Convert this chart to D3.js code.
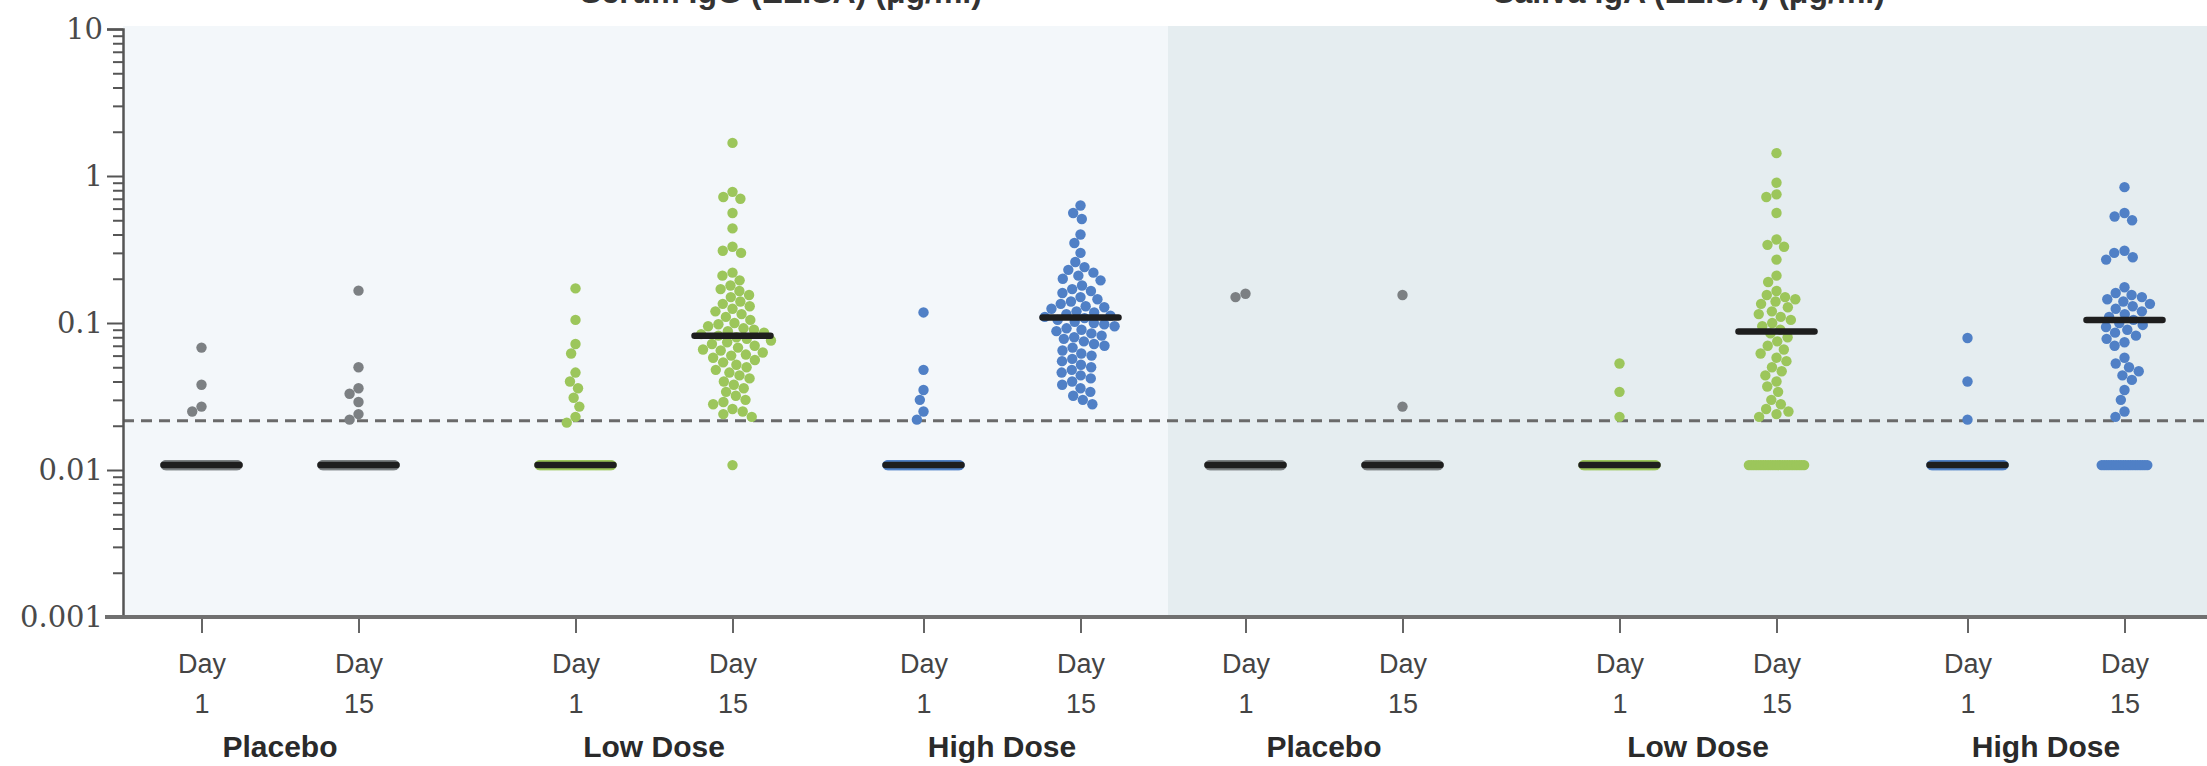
<!DOCTYPE html>
<html>
<head>
<meta charset="utf-8">
<script src="https://cdn.jsdelivr.net/npm/d3@7"></script>
<style>
  body { margin: 0; background: #fff; }
  svg { display: block; }
</style>
</head>
<body>
<div id="chart"></div>
<script>
// antibody levels, day 1 vs day 15, by dose group, two assays side by side
// values below the lower limit of quantitation are drawn at half of it

const panels = ['Serum', 'Saliva'];
const panelTitles = ['Serum IgG (ELISA) (\u03bcg/ml)', 'Saliva IgA (ELISA) (\u03bcg/ml)'];
const groups = ['Placebo', 'Low Dose', 'High Dose'];
const days = ['1', '15'];
const yTickValues = [0.001, 0.01, 0.1, 1, 10];
const lloq = 0.0216;
const floorValue = 0.0108;

// values above the LLOQ, one list per column
const serumPlaceboD1 = [0.068, 0.038, 0.027, 0.025];
const serumPlaceboD15 = [0.166, 0.050, 0.036, 0.033, 0.029, 0.024, 0.022];
const serumLowD1 = [0.172, 0.105, 0.072, 0.062, 0.046, 0.040, 0.036, 0.031, 0.027, 0.023, 0.021];
const serumLowD15 = [1.68, 0.78, 0.72, 0.70, 0.56, 0.44, 0.33, 0.31, 0.30, 0.22, 0.21, 0.195, 0.18,
  0.17, 0.165, 0.155, 0.15, 0.14, 0.135, 0.13, 0.125, 0.12, 0.115, 0.11, 0.105, 0.10, 0.098, 0.095,
  0.092, 0.09, 0.088, 0.086, 0.084, 0.082, 0.08, 0.078, 0.076, 0.074, 0.072, 0.07, 0.068, 0.066,
  0.065, 0.063, 0.061, 0.06, 0.058, 0.056, 0.054, 0.052, 0.05, 0.048, 0.046, 0.044, 0.042, 0.04,
  0.038, 0.036, 0.034, 0.032, 0.03, 0.029, 0.028, 0.026, 0.025, 0.024, 0.023];
const serumHighD1 = [0.118, 0.048, 0.035, 0.030, 0.025, 0.022];
const serumHighD15 = [0.63, 0.56, 0.51, 0.40, 0.35, 0.30, 0.26, 0.24, 0.23, 0.22, 0.21, 0.2, 0.195,
  0.18, 0.17, 0.165, 0.16, 0.15, 0.145, 0.14, 0.135, 0.13, 0.128, 0.125, 0.12, 0.118, 0.115, 0.112,
  0.11, 0.108, 0.105, 0.102, 0.1, 0.098, 0.095, 0.092, 0.09, 0.088, 0.085, 0.082, 0.08, 0.078,
  0.075, 0.072, 0.07, 0.068, 0.065, 0.062, 0.06, 0.057, 0.055, 0.052, 0.05, 0.048, 0.046, 0.044,
  0.042, 0.04, 0.038, 0.036, 0.034, 0.032, 0.03, 0.028];
const salivaPlaceboD1 = [0.158, 0.150];
const salivaPlaceboD15 = [0.155, 0.027];
const salivaLowD1 = [0.053, 0.034, 0.023];
const salivaLowD15 = [1.43, 0.90, 0.75, 0.72, 0.56, 0.37, 0.34, 0.33, 0.27, 0.21, 0.19, 0.165, 0.155,
  0.15, 0.145, 0.14, 0.135, 0.128, 0.12, 0.115, 0.11, 0.105, 0.1, 0.095, 0.09, 0.085, 0.08, 0.075,
  0.07, 0.066, 0.062, 0.058, 0.055, 0.05, 0.047, 0.044, 0.04, 0.037, 0.034, 0.03, 0.028, 0.026,
  0.025, 0.024, 0.023];
const salivaHighD1 = [0.079, 0.040, 0.022];
const salivaHighD15 = [0.84, 0.56, 0.53, 0.50, 0.31, 0.30, 0.28, 0.27, 0.175, 0.16, 0.155, 0.15,
  0.145, 0.14, 0.135, 0.13, 0.125, 0.12, 0.115, 0.11, 0.105, 0.1, 0.097, 0.094, 0.09, 0.086, 0.082,
  0.078, 0.074, 0.07, 0.058, 0.053, 0.05, 0.047, 0.044, 0.041, 0.035, 0.03, 0.025, 0.023];

// number of participants below the LLOQ in each column
const floorCounts = [74, 71, 62, 1, 68, 0, 72, 70, 66, 24, 67, 20];
// horizontal bar of each column
const medians = [floorValue, floorValue, floorValue, 0.082, floorValue, 0.109,
  floorValue, floorValue, floorValue, 0.0875, floorValue, 0.105];

const columnValues = [serumPlaceboD1, serumPlaceboD15, serumLowD1, serumLowD15, serumHighD1, serumHighD15,
  salivaPlaceboD1, salivaPlaceboD15, salivaLowD1, salivaLowD15, salivaHighD1, salivaHighD15];

const width = 2207;
const height = 766;
const axisX = 123;
const plotTop = 29;
const plotBottom = 617;
const panelSplit = 1168;

const svg = d3.select('#chart')
  .append('svg')
  .attr('width', width)
  .attr('height', height);

// scales
const y = d3.scaleLog()
  .domain([0.001, 10])
  .range([plotBottom, plotTop]);

const groupKeys = d3.cross(panels, groups).map(d => d.join('|'));
const groupCenter = d3.scaleOrdinal()
  .domain(groupKeys)
  .range([280, 654, 1002, 1324, 1698, 2046]);

const dayOffset = d3.scalePoint()
  .domain(days)
  .range([-78.5, 78.5]);

const columns = [];
groupKeys.forEach(g => days.forEach(d => columns.push({ group: g, day: d })));
columns.forEach((c, i) => {
  c.key = c.group + '|' + c.day;
  c.x = groupCenter(c.group) + dayOffset(c.day);
  c.values = columnValues[i];
  c.floor = floorCounts[i];
  c.median = medians[i];
});

const x = d3.scaleOrdinal()
  .domain(columns.map(c => c.key))
  .range(columns.map(c => c.x));

const color = d3.scaleOrdinal()
  .domain(groups)
  .range(['#7c8083', '#9cc65b', '#5080c6']);

// panel backgrounds
svg.append('rect')
  .attr('x', axisX).attr('y', plotTop - 3)
  .attr('width', panelSplit - axisX).attr('height', plotBottom - plotTop + 3)
  .attr('fill', '#f3f7fa');
svg.append('rect')
  .attr('x', panelSplit).attr('y', plotTop - 3)
  .attr('width', width - panelSplit).attr('height', plotBottom - plotTop + 3)
  .attr('fill', '#e5edf0');

// titles, cut off at the top like the source figure
svg.selectAll('.panel-title')
  .data(panels)
  .enter()
  .append('text')
  .attr('class', 'panel-title')
  .attr('x', (d, i) => i === 0 ? 781 : 1689)
  .attr('y', 3)
  .attr('text-anchor', 'middle')
  .attr('font-family', 'Liberation Sans, Arial, sans-serif')
  .attr('font-weight', 'bold')
  .attr('font-size', 32)
  .attr('fill', '#333')
  .text((d, i) => panelTitles[i]);

// dashed LLOQ line
svg.append('line')
  .attr('x1', axisX).attr('x2', width)
  .attr('y1', y(lloq)).attr('y2', y(lloq))
  .attr('stroke', '#6a6a6a')
  .attr('stroke-width', 3)
  .attr('stroke-dasharray', '11 7');

// simple beeswarm: nearest free offset to the column centre
function swarm(vals, diam) {
  const placed = [];
  vals.slice().sort((a, b) => b - a).forEach(v => {
    const py = y(v);
    const blocks = [];
    placed.forEach(p => {
      const dy = Math.abs(p.y - py);
      if (dy < diam) {
        const dx = Math.sqrt(diam * diam - dy * dy);
        blocks.push([p.dx - dx, p.dx + dx]);
      }
    });
    const cands = [0];
    blocks.forEach(b => cands.push(b[0], b[1]));
    cands.sort((a, b) => Math.abs(a) - Math.abs(b));
    const dx = cands.find(c => blocks.every(b => c <= b[0] + 1e-6 || c >= b[1] - 1e-6));
    placed.push({ v, y: py, dx });
  });
  return placed;
}

const dots = svg.append('g');
columns.forEach(c => {
  const fill = color(c.group.split('|')[1]);
  const pts = swarm(c.values, 10.5);
  // below-LLOQ values are spread into a flat band
  const w = Math.min(72, Math.max(0, c.floor - 1) * 2.4);
  d3.range(c.floor).forEach(i => {
    pts.push({ v: floorValue, y: y(floorValue), dx: c.floor === 1 ? 0 : -w / 2 + i * w / (c.floor - 1) });
  });
  dots.selectAll(null)
    .data(pts)
    .enter()
    .append('circle')
    .attr('cx', d => x(c.key) + d.dx)
    .attr('cy', d => y(d.v))
    .attr('r', 5.2)
    .attr('fill', fill);
});

// median bars
svg.append('g')
  .selectAll('line')
  .data(columns)
  .enter()
  .append('line')
  .attr('x1', d => x(d.key) - 38)
  .attr('x2', d => x(d.key) + 38)
  .attr('y1', d => y(d.median))
  .attr('y2', d => y(d.median))
  .attr('stroke', '#1e1e1e')
  .attr('stroke-width', 6.5)
  .attr('stroke-linecap', 'round');

// y axis: minor ticks, then major ticks with labels
const minorTicks = [];
yTickValues.slice(0, -1).forEach(p => d3.range(2, 10).forEach(k => minorTicks.push(p * k)));

svg.append('g')
  .attr('transform', `translate(${axisX},0)`)
  .call(d3.axisLeft(y).tickValues(minorTicks).tickSize(10).tickFormat(''))
  .call(g => g.select('.domain').remove())
  .call(g => g.selectAll('.tick line').attr('stroke', '#555').attr('stroke-width', 2));

svg.append('g')
  .attr('transform', `translate(${axisX},0)`)
  .call(d3.axisLeft(y).tickValues(yTickValues).tickSize(16).tickPadding(4).tickFormat(d3.format('~g')))
  .call(g => g.select('.domain').attr('stroke', '#555').attr('stroke-width', 2.5))
  .call(g => g.selectAll('.tick line').attr('stroke', '#555').attr('stroke-width', 2))
  .call(g => g.selectAll('.tick text')
    .attr('font-family', 'DejaVu Serif, serif')
    .attr('font-size', 29)
    .attr('fill', '#4a4a4a'));

// x axis
const xAxis = svg.append('g')
  .attr('transform', `translate(0,${plotBottom})`)
  .call(d3.axisBottom(x).tickSize(16).tickFormat(''));
xAxis.select('.domain').remove();
xAxis.selectAll('.tick line').attr('stroke', '#666').attr('stroke-width', 2);

xAxis.selectAll('.tick').each(function (k) {
  const t = d3.select(this);
  t.append('text')
    .attr('y', 56)
    .text('Day');
  t.append('text')
    .attr('y', 96)
    .text(k.split('|')[2]);
  t.selectAll('text')
    .attr('text-anchor', 'middle')
    .attr('font-family', 'Liberation Sans Narrow, Arial Narrow, sans-serif')
    .attr('font-size', 27)
    .attr('fill', '#444');
});

svg.append('line')
  .attr('x1', 105).attr('x2', width)
  .attr('y1', plotBottom).attr('y2', plotBottom)
  .attr('stroke', '#707070')
  .attr('stroke-width', 4);

// group names
svg.append('g')
  .selectAll('text')
  .data(groupKeys)
  .enter()
  .append('text')
  .attr('x', d => groupCenter(d))
  .attr('y', 757)
  .attr('text-anchor', 'middle')
  .attr('font-family', 'Liberation Sans, Arial, sans-serif')
  .attr('font-weight', 'bold')
  .attr('font-size', 30)
  .attr('fill', '#2a2a2a')
  .text(d => d.split('|')[1]);
</script>
</body>
</html>
